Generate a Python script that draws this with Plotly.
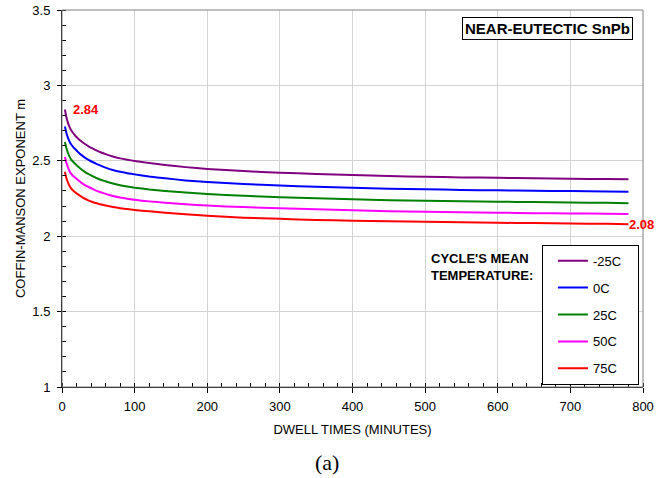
import plotly.graph_objects as go

# Dwell times (minutes) at which the Coffin-Manson exponent is tabulated
dwell_min = [4, 6, 8, 10, 12, 15, 18, 22, 26, 31, 36, 42, 48, 54, 60, 70, 80, 90, 100,
             120, 142, 170, 200, 250, 300, 350, 400, 450, 500, 550, 600, 650, 700, 750, 780]

# Coffin-Manson exponent m for each cycle mean temperature
m_minus25 = [2.84, 2.79, 2.755, 2.728, 2.707, 2.686, 2.668, 2.648, 2.631, 2.613, 2.598,
             2.582, 2.567, 2.555, 2.544, 2.528, 2.516, 2.507, 2.499,
             2.485, 2.472, 2.458, 2.446, 2.432, 2.421, 2.413, 2.406, 2.399, 2.394,
             2.390, 2.387, 2.384, 2.381, 2.379, 2.377]
m_0 = [2.728, 2.686, 2.655, 2.631, 2.613, 2.594, 2.578, 2.558, 2.541, 2.523, 2.508,
       2.492, 2.478, 2.466, 2.455, 2.439, 2.427, 2.418, 2.410,
       2.396, 2.384, 2.370, 2.359, 2.346, 2.336, 2.328, 2.322, 2.315, 2.311,
       2.307, 2.304, 2.301, 2.299, 2.297, 2.295]
m_25 = [2.625, 2.585, 2.555, 2.531, 2.513, 2.495, 2.481, 2.462, 2.446, 2.428, 2.413,
        2.398, 2.384, 2.373, 2.364, 2.349, 2.338, 2.329, 2.322,
        2.310, 2.300, 2.290, 2.280, 2.268, 2.258, 2.251, 2.245, 2.239, 2.235,
        2.231, 2.229, 2.226, 2.223, 2.221, 2.219]
m_50 = [2.525, 2.487, 2.459, 2.436, 2.418, 2.401, 2.390, 2.372, 2.357, 2.341, 2.328,
        2.314, 2.301, 2.290, 2.281, 2.266, 2.256, 2.248, 2.241,
        2.231, 2.222, 2.212, 2.203, 2.193, 2.185, 2.178, 2.172, 2.166, 2.162,
        2.159, 2.156, 2.153, 2.151, 2.149, 2.148]
m_75 = [2.427, 2.386, 2.358, 2.337, 2.321, 2.305, 2.292, 2.277, 2.264, 2.250, 2.238,
        2.227, 2.218, 2.210, 2.203, 2.194, 2.186, 2.180, 2.174,
        2.165, 2.156, 2.145, 2.135, 2.123, 2.115, 2.108, 2.103, 2.099, 2.095,
        2.092, 2.089, 2.087, 2.084, 2.082, 2.08]

series_names = ["-25C", "0C", "25C", "50C", "75C"]
series_values = [m_minus25, m_0, m_25, m_50, m_75]
series_colors = ["#800080", "#0000FF", "#008000", "#FF00FF", "#FF0000"]

FONT = "Arial, Liberation Sans, sans-serif"

fig = go.Figure()
for i, (name, vals, col) in enumerate(zip(series_names, series_values, series_colors)):
    fig.add_trace(go.Scatter(
        x=dwell_min, y=vals, name=name + "&nbsp;&nbsp;&nbsp;", mode="lines",
        line=dict(color=col, width=2, shape="spline", smoothing=0.5),
        legendgroup=f"g{i}",
    ))

# value callouts at the first and last points
fig.add_annotation(x=dwell_min[0], y=m_minus25[0], text="<b>2.84</b>", showarrow=False,
                   xanchor="left", yanchor="middle", xshift=6,
                   font=dict(family=FONT, size=13, color="#FF0000"))
fig.add_annotation(x=dwell_min[-1], y=m_75[-1], text="<b>2.08</b>", showarrow=False,
                   xanchor="left", yanchor="middle", xshift=-1,
                   font=dict(family=FONT, size=13, color="#FF0000"))

# boxed title
fig.add_annotation(xref="paper", yref="paper", x=0.835, y=0.951,
                   text="<b>NEAR-EUTECTIC SnPb</b>", showarrow=False,
                   xanchor="center", yanchor="middle",
                   bordercolor="#000000", borderwidth=1, borderpad=2, bgcolor="white",
                   font=dict(family=FONT, size=15, color="#000000"))

# legend heading
fig.add_annotation(xref="paper", yref="paper", x=0.632, y=0.318,
                   text="<b>CYCLE'S MEAN<br>TEMPERATURE:</b>", showarrow=False,
                   xanchor="left", yanchor="middle", align="left",
                   font=dict(family=FONT, size=13, color="#000000"))

# panel label
fig.add_annotation(xref="paper", yref="paper", x=0.456, y=-0.200,
                   text="(a)", showarrow=False, xanchor="center", yanchor="middle",
                   font=dict(family="Liberation Serif, Times New Roman, serif", size=22,
                             color="#000000"))

# light frame on the top and right sides
fig.add_shape(type="rect", xref="paper", yref="paper", x0=0, y0=0, x1=1, y1=1,
              line=dict(color="#808080", width=1), layer="above")

fig.update_xaxes(
    range=[0, 800], dtick=100, tick0=0,
    showgrid=True, gridcolor="#D3D3D3", gridwidth=1, zeroline=False,
    showline=True, linecolor="#000000", linewidth=1,
    ticks="outside", ticklen=5, tickcolor="#000000", ticklabelstandoff=2,
    minor=dict(dtick=20, ticks="inside", ticklen=4, tickcolor="#000000", showgrid=False),
    tickfont=dict(family=FONT, size=13, color="#000000"),
    title=dict(text="DWELL TIMES (MINUTES)", standoff=12,
               font=dict(family=FONT, size=13, color="#000000")),
)
fig.update_yaxes(
    range=[1, 3.5], dtick=0.5, tick0=1,
    showgrid=True, gridcolor="#D3D3D3", gridwidth=1, zeroline=False,
    showline=True, linecolor="#000000", linewidth=1,
    ticks="outside", ticklen=4, tickcolor="#000000", ticklabelstandoff=4,
    minor=dict(dtick=0.1, ticks="inside", ticklen=4, tickcolor="#000000", showgrid=False),
    tickfont=dict(family=FONT, size=13, color="#000000"),
    title=dict(text="COFFIN-MANSON EXPONENT m", standoff=3,
               font=dict(family=FONT, size=13, color="#000000")),
)

fig.update_layout(
    width=665, height=478,
    margin=dict(l=62, r=22, t=10, b=91, autoexpand=False),
    paper_bgcolor="white", plot_bgcolor="white",
    font=dict(family=FONT, size=13, color="#000000"),
    showlegend=True,
    legend=dict(
        x=0.993, y=0.006, xanchor="right", yanchor="bottom",
        bordercolor="#000000", borderwidth=1, bgcolor="white",
        traceorder="grouped", tracegroupgap=7, indentation=10,
        font=dict(family=FONT, size=13, color="#000000"),
    ),
)

fig.write_html("out.html")
